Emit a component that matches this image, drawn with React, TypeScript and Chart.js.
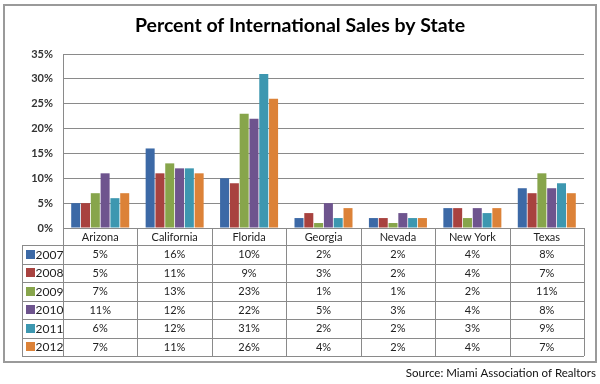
import React, { useEffect, useRef } from "react";
import { Chart, registerables } from "chart.js";

Chart.register(...registerables);

const states = ["Arizona", "California", "Florida", "Georgia", "Nevada", "New York", "Texas"];
const years = ["2007", "2008", "2009", "2010", "2011", "2012"];
const s2007 = [5, 16, 10, 2, 2, 4, 8];
const s2008 = [5, 11, 9, 3, 2, 4, 7];
const s2009 = [7, 13, 23, 1, 1, 2, 11];
const s2010 = [11, 12, 22, 5, 3, 4, 8];
const s2011 = [6, 12, 31, 2, 2, 3, 9];
const s2012 = [7, 11, 26, 4, 2, 4, 7];
const seriesValues = [s2007, s2008, s2009, s2010, s2011, s2012];
const colors = ["#3c69a6", "#a8423f", "#87a54b", "#6e548e", "#3d97b0", "#dc8238"];
const titleText = "Percent of International Sales by State";
const sourceText = "Source: Miami Association of Realtors";

const FONT = "Lato";

const tablePlugin = {
  id: "dataTable",
  afterDraw(chart: any) {
    const ctx = chart.ctx as CanvasRenderingContext2D;
    const xs = chart.scales.x;
    const area = chart.chartArea;
    const n = states.length;
    const cw = (area.right - area.left) / n;
    const top = area.bottom;
    const headerH = 17;
    const rowH = 18.5;
    const bottom = top + headerH + rowH * years.length;
    const rowLeft = 22;
    ctx.save();
    ctx.strokeStyle = "#8a8a8a";
    ctx.lineWidth = 1;
    ctx.beginPath();
    ctx.moveTo(area.left, Math.round(top) + 0.5);
    ctx.lineTo(area.right, Math.round(top) + 0.5);
    for (let r = 0; r <= years.length; r++) {
      const y = Math.round(top + headerH + r * rowH) + 0.5;
      ctx.moveTo(rowLeft, y);
      ctx.lineTo(area.right, y);
    }
    for (let i = 0; i < n; i++) {
      const c = xs.getPixelForValue(i);
      const x = Math.round(c - cw / 2) + 0.5;
      ctx.moveTo(x, top);
      ctx.lineTo(x, bottom);
    }
    const xr = Math.round(area.right) + 0.5;
    ctx.moveTo(xr, top);
    ctx.lineTo(xr, bottom);
    ctx.moveTo(rowLeft + 0.5, top + headerH);
    ctx.lineTo(rowLeft + 0.5, bottom);
    ctx.stroke();

    ctx.textAlign = "center";
    ctx.textBaseline = "middle";
    ctx.fillStyle = "#222";
    ctx.font = `11px ${FONT}`;
    for (let i = 0; i < n; i++) {
      const c = xs.getPixelForValue(i);
      ctx.fillText(states[i], c, top + headerH / 2 + 0.5);
      for (let r = 0; r < years.length; r++) {
        ctx.fillText(seriesValues[r][i] + "%", c, top + headerH + r * rowH + rowH / 2 + 0.5);
      }
    }
    for (let r = 0; r < years.length; r++) {
      const cy = top + headerH + r * rowH + rowH / 2;
      ctx.fillStyle = colors[r];
      ctx.fillRect(26, Math.round(cy - 4.5), 9, 9);
      ctx.fillStyle = "#222";
      ctx.textAlign = "left";
      ctx.font = `12px ${FONT}`;
      ctx.fillText(years[r], 35.5, cy + 0.5);
    }
    ctx.strokeStyle = "#9a9a9a";
    ctx.lineWidth = 2;
    ctx.strokeRect(4, 5, 592, 357);
    ctx.fillStyle = "#111";
    ctx.textAlign = "right";
    ctx.font = `11.5px ${FONT}`;
    ctx.fillText(sourceText, 596, 373);
    ctx.restore();
  },
};

export default function App() {
  const ref = useRef<HTMLCanvasElement | null>(null);
  useEffect(() => {
    document.body.style.margin = "0";
    const canvas = ref.current;
    if (!canvas) return;
    const chart = new Chart(canvas, {
      type: "bar",
      data: {
        labels: states,
        datasets: years.map((y, i) => ({
          label: y,
          data: seriesValues[i],
          backgroundColor: colors[i],
          borderWidth: 0,
          barPercentage: 0.92,
          categoryPercentage: 0.79,
        })),
      },
      options: {
        responsive: false,
        animation: false,
        layout: { padding: { top: 4, left: 16, right: 16, bottom: 156 } },
        plugins: {
          legend: { display: false },
          tooltip: { enabled: false },
          title: {
            display: true,
            text: titleText,
            color: "#000",
            font: { family: FONT, size: 19.5, weight: "bold" },
            padding: { top: 10, bottom: 16.6 },
          },
        },
        scales: {
          x: { display: false },
          y: {
            min: 0,
            max: 35,
            ticks: {
              stepSize: 5,
              padding: 10,
              color: "#333",
              font: { family: FONT, size: 11, weight: "bold" },
              callback: (v: any) => v + "%",
            },
            grid: { color: "#8a8a8a", lineWidth: 1, drawTicks: false },
            border: { display: true, color: "#8a8a8a", width: 1 },
            afterFit: (scale: any) => {
              scale.width = 47;
            },
          },
        },
      },
      plugins: [tablePlugin],
    });
    return () => chart.destroy();
  }, []);
  return (
    <div style={{ width: 600, height: 384 }}>
      <canvas ref={ref} width={600} height={384} />
    </div>
  );
}
